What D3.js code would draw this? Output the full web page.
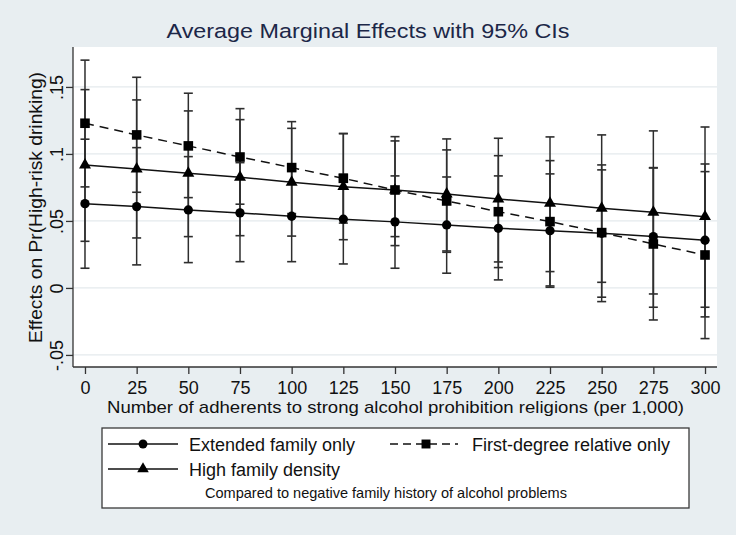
<!DOCTYPE html>
<html>
<head>
<meta charset="utf-8">
<script src="https://cdn.jsdelivr.net/npm/d3@7"></script>
<style>
  html, body { margin: 0; padding: 0; background: #e8eef1; }
  svg { display: block; font-family: "Liberation Sans", Arial, sans-serif; }
</style>
</head>
<body>
<svg id="chart" width="736" height="535"></svg>
<script>
// ---- Data ----
const xValues = [0, 25, 50, 75, 100, 125, 150, 175, 200, 225, 250, 275, 300];

const extEst = [0.0629, 0.0607, 0.0582, 0.0560, 0.0535, 0.0513, 0.0493, 0.0470, 0.0445, 0.0427, 0.0408, 0.0383, 0.0356];
const extLo  = [0.0147, 0.0172, 0.0189, 0.0196, 0.0196, 0.0179, 0.0147, 0.0110, 0.0060, 0.0015, -0.0069, -0.0144, -0.0216];
const extHi  = [0.1110, 0.1047, 0.0980, 0.0935, 0.0875, 0.0848, 0.0836, 0.0828, 0.0836, 0.0851, 0.0881, 0.0898, 0.0925];

const firstEst = [0.1229, 0.1142, 0.1060, 0.0977, 0.0898, 0.0818, 0.0731, 0.0649, 0.0569, 0.0495, 0.0413, 0.0328, 0.0246];
const firstLo  = [0.0754, 0.0714, 0.0674, 0.0625, 0.0555, 0.0484, 0.0383, 0.0266, 0.0152, 0.0005, -0.0102, -0.0239, -0.0378];
const firstHi  = [0.1700, 0.1572, 0.1453, 0.1338, 0.1241, 0.1152, 0.1097, 0.1030, 0.0987, 0.0950, 0.0918, 0.0895, 0.0868];

const highEst = [0.0918, 0.0888, 0.0856, 0.0826, 0.0789, 0.0756, 0.0730, 0.0701, 0.0664, 0.0632, 0.0595, 0.0565, 0.0532];
const highLo  = [0.0348, 0.0373, 0.0383, 0.0390, 0.0387, 0.0360, 0.0316, 0.0276, 0.0194, 0.0122, 0.0042, -0.0045, -0.0144];
const highHi  = [0.1480, 0.1403, 0.1321, 0.1256, 0.1191, 0.1152, 0.1129, 0.1112, 0.1117, 0.1127, 0.1142, 0.1172, 0.1201];

const yTickValues = [-0.05, 0, 0.05, 0.1, 0.15];
const yTickLabels = ["-.05", "0", ".05", ".1", ".15"];
const xTickValues = xValues;
const xTickLabels = ["0", "25", "50", "75", "100", "125", "150", "175", "200", "225", "250", "275", "300"];

const titleText = "Average Marginal Effects with 95% CIs";
const xTitle = "Number of adherents to strong alcohol prohibition religions (per 1,000)";
const yTitle = "Effects on Pr(High-risk drinking)";
const legendLabels = ["Extended family only", "First-degree relative only", "High family density"];
const legendNote = "Compared to negative family history of alcohol problems";

// ---- Layout ----
const svg = d3.select("#chart");
const plot = { left: 73, right: 717, top: 47, bottom: 367 };

const x = d3.scaleLinear().domain([-5.8, 305.8]).range([plot.left, plot.right]);
const y = d3.scaleLinear().domain([-0.0590, 0.1798]).range([plot.bottom, plot.top]);

// background
svg.append("rect").attr("width", 736).attr("height", 535).attr("fill", "#e8eef1");
svg.append("rect")
  .attr("x", plot.left).attr("y", plot.top)
  .attr("width", plot.right - plot.left).attr("height", plot.bottom - plot.top)
  .attr("fill", "#ffffff");

// gridlines
svg.append("g").selectAll("line").data(yTickValues).join("line")
  .attr("x1", plot.left).attr("x2", plot.right)
  .attr("y1", d => y(d)).attr("y2", d => y(d))
  .attr("stroke", "#e4eaed").attr("stroke-width", 1.2);

// title
svg.append("text")
  .attr("x", 368).attr("y", 38)
  .attr("text-anchor", "middle")
  .attr("font-size", 20.5)
  .attr("fill", "#1c2748")
  .attr("textLength", 403).attr("lengthAdjust", "spacingAndGlyphs")
  .text(titleText);

// axes
const yAxis = d3.axisLeft(y).tickValues(yTickValues)
  .tickFormat((d, i) => yTickLabels[i]).tickSize(7).tickSizeOuter(0);
const gy = svg.append("g").attr("transform", `translate(${plot.left},0)`).call(yAxis);
gy.select(".domain").attr("stroke", "#333").attr("stroke-width", 1.3)
  .attr("d", `M0,${plot.top}V${plot.bottom}`);
gy.selectAll(".tick line").attr("stroke", "#333").attr("stroke-width", 1.3);
gy.selectAll(".tick text")
  .attr("transform", "rotate(-90)")
  .attr("x", 0).attr("y", -10).attr("dy", 0)
  .attr("text-anchor", "middle")
  .attr("font-size", 18)
  .attr("font-family", "Liberation Sans, Arial, sans-serif")
  .attr("fill", "#111");

const xAxis = d3.axisBottom(x).tickValues(xTickValues)
  .tickFormat((d, i) => xTickLabels[i]).tickSize(7).tickSizeOuter(0);
const gx = svg.append("g").attr("transform", `translate(0,${plot.bottom})`).call(xAxis);
gx.select(".domain").attr("stroke", "#333").attr("stroke-width", 1.3)
  .attr("d", `M${plot.left},0H${plot.right}`);
gx.selectAll(".tick line").attr("stroke", "#333").attr("stroke-width", 1.3);
gx.selectAll(".tick text")
  .attr("y", 27).attr("dy", 0)
  .attr("font-size", 18)
  .attr("font-family", "Liberation Sans, Arial, sans-serif")
  .attr("fill", "#111");

// axis titles
svg.append("text")
  .attr("x", 395.5).attr("y", 413)
  .attr("text-anchor", "middle")
  .attr("font-size", 17).attr("fill", "#111")
  .attr("textLength", 577).attr("lengthAdjust", "spacingAndGlyphs")
  .text(xTitle);

svg.append("text")
  .attr("transform", `translate(42,${(72 + 343) / 2}) rotate(-90)`)
  .attr("text-anchor", "middle")
  .attr("font-size", 19).attr("fill", "#111")
  .attr("textLength", 271).attr("lengthAdjust", "spacingAndGlyphs")
  .text(yTitle);

// ---- Series ----
const series = [
  { est: extEst, lo: extLo, hi: extHi, symbol: d3.symbolCircle, size: 68, dash: null },
  { est: highEst, lo: highLo, hi: highHi, symbol: d3.symbolTriangle, size: 62, dash: null },
  { est: firstEst, lo: firstLo, hi: firstHi, symbol: d3.symbolSquare, size: 92, dash: "9,6" }
];

const capHalf = 4.5;
const gCI = svg.append("g");
series.forEach(s => {
  const g = gCI.append("g");
  const pts = xValues.map((xv, i) => ({ x: xv, lo: s.lo[i], hi: s.hi[i] }));
  g.selectAll("line.v").data(pts).join("line")
    .attr("x1", d => x(d.x)).attr("x2", d => x(d.x))
    .attr("y1", d => y(d.lo)).attr("y2", d => y(d.hi))
    .attr("stroke", "#2e2e2e").attr("stroke-width", 1.5);
  g.selectAll("line.lo").data(pts).join("line")
    .attr("x1", d => x(d.x) - capHalf).attr("x2", d => x(d.x) + capHalf)
    .attr("y1", d => y(d.lo)).attr("y2", d => y(d.lo))
    .attr("stroke", "#2e2e2e").attr("stroke-width", 1.6);
  g.selectAll("line.hi").data(pts).join("line")
    .attr("x1", d => x(d.x) - capHalf).attr("x2", d => x(d.x) + capHalf)
    .attr("y1", d => y(d.hi)).attr("y2", d => y(d.hi))
    .attr("stroke", "#2e2e2e").attr("stroke-width", 1.6);
});

const line = d3.line().x(d => x(d[0])).y(d => y(d[1]));
series.forEach(s => {
  const pts = xValues.map((xv, i) => [xv, s.est[i]]);
  svg.append("path").datum(pts)
    .attr("d", line)
    .attr("fill", "none")
    .attr("stroke", "#111")
    .attr("stroke-width", 1.5)
    .attr("stroke-dasharray", s.dash);
  svg.append("g").selectAll("path").data(pts).join("path")
    .attr("transform", d => `translate(${x(d[0])},${y(d[1])})`)
    .attr("d", d3.symbol().type(s.symbol).size(s.size))
    .attr("fill", "#000");
});

// ---- Legend ----
const lg = svg.append("g");
lg.append("rect")
  .attr("x", 102).attr("y", 428).attr("width", 587).attr("height", 80)
  .attr("fill", "#ffffff").attr("stroke", "#3a3a3a").attr("stroke-width", 1.3);

const legendItems = [
  { x1: 108, x2: 178, y: 444, mx: 143, symbol: d3.symbolCircle, size: 62, dash: null, tx: 189, label: legendLabels[0] },
  { x1: 390, x2: 458, y: 444, mx: 426, symbol: d3.symbolSquare, size: 80, dash: "8,5", tx: 472, label: legendLabels[1] },
  { x1: 108, x2: 178, y: 469, mx: 143, symbol: d3.symbolTriangle, size: 58, dash: null, tx: 189, label: legendLabels[2] }
];
legendItems.forEach(it => {
  lg.append("line")
    .attr("x1", it.x1).attr("x2", it.x2).attr("y1", it.y).attr("y2", it.y)
    .attr("stroke", "#111").attr("stroke-width", 1.5)
    .attr("stroke-dasharray", it.dash);
  lg.append("path")
    .attr("transform", `translate(${it.mx},${it.y})`)
    .attr("d", d3.symbol().type(it.symbol).size(it.size))
    .attr("fill", "#000");
  lg.append("text")
    .attr("x", it.tx).attr("y", it.y + 7)
    .attr("font-size", 18).attr("fill", "#111")
    .text(it.label);
});
lg.append("text")
  .attr("x", 205).attr("y", 498)
  .attr("font-size", 14.5).attr("fill", "#111")
  .attr("textLength", 362).attr("lengthAdjust", "spacingAndGlyphs")
  .text(legendNote);
</script>
</body>
</html>
